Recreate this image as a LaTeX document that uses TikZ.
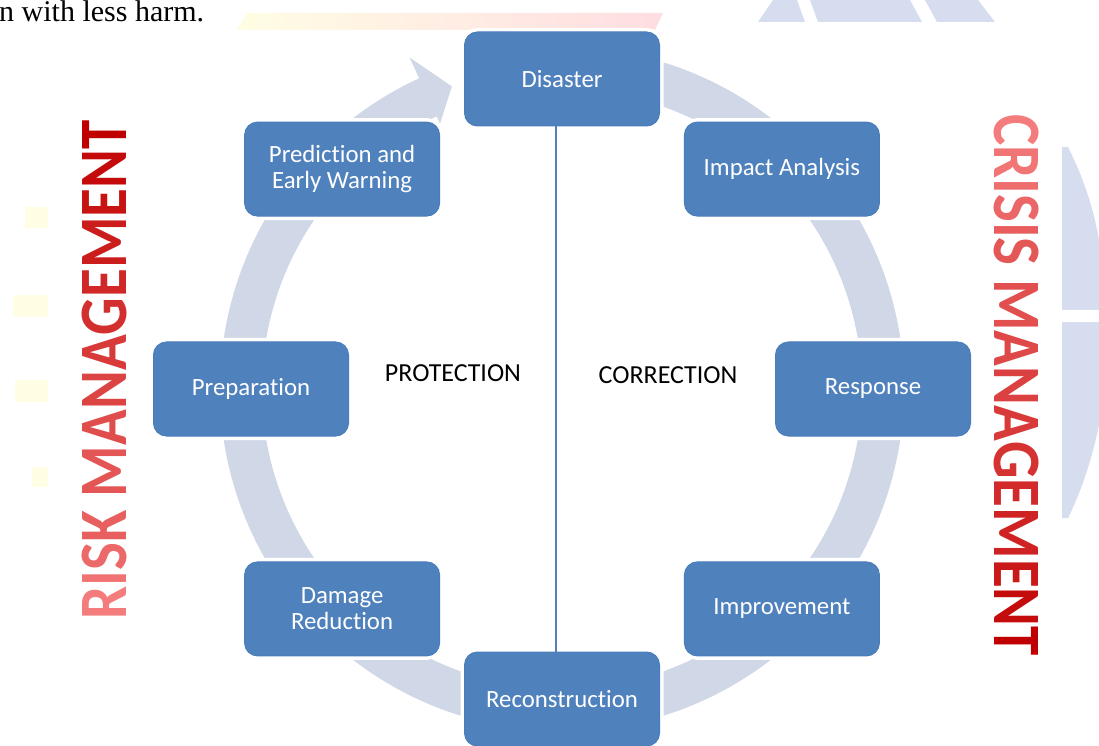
\documentclass[tikz,border=0pt]{standalone}
\usepackage{fontspec}
\setmainfont{Carlito}[Ligatures=CommonOff]
\newfontfamily\pageserif{Liberation Serif}
\usetikzlibrary{calc}

\definecolor{boxblue}{HTML}{4F81BD}
\definecolor{boxedge}{HTML}{4A7EBB}
\definecolor{ringblue}{HTML}{D0D8E8}
\definecolor{marklight}{HTML}{F47C7C}
\definecolor{markdark}{HTML}{C00000}
\definecolor{wmblue}{HTML}{D6DDEE}
\definecolor{wmyellow}{HTML}{FFFDE4}
\definecolor{wmpink}{HTML}{FFDDE2}

% letter shaded between light and dark red
\newcommand{\grad}[2]{\textcolor{markdark!#1!marklight}{#2}}

\tikzset{
	stage/.style={draw=boxedge, line width=1pt, fill=boxblue, rounded corners=13pt,
		minimum width=195pt, minimum height=94pt, text=white, align=center,
		font=\fontsize{24.8}{26}\selectfont, preaction={draw=white, line width=8pt}},
	phase/.style={font=\fontsize{26}{30}\selectfont, text=black},
	mgmt/.style={font=\fontsize{59}{60}\selectfont\bfseries, inner sep=0pt}
}

\begin{document}
\begin{tikzpicture}[x=1pt,y=1pt]
	\useasboundingbox (0,0) rectangle (1099,745);

	% Page text and background marks
	\node[font=\pageserif\fontsize{30}{30}\selectfont, anchor=base west, inner sep=0pt] (pagetext) at (-1,723.5) {n with less harm.};
	\shade[left color=wmyellow, right color=wmpink] (237,715) -- (247,732) -- (663,732) -- (655,715) -- cycle;
	\fill[wmblue] (758,723) -- (773,745) -- (797,745) -- (805,723) -- cycle;
	\fill[wmblue] (818,723) -- (810,745) -- (910,745) -- (922,723) -- cycle;
	\fill[wmblue] (937,723) -- (925,745) -- (978,745) -- (995,723) -- cycle;
	\fill[wmblue] (1062,598) -- (1068,598) .. controls (1082,570) and (1093,540) .. (1099,505) -- (1099,320) .. controls (1093,290) and (1082,255) .. (1068,227) -- (1062,227) -- cycle;
	\fill[white] (1062,423) rectangle (1099,435);
	\fill[wmyellow] (25,517) rectangle (48,538);
	\fill[wmyellow] (13,428) rectangle (48,450);
	\fill[wmyellow] (15,343) rectangle (48,365);
	\fill[wmyellow] (32,258) rectangle (48,278);

	\begin{scope}[shift={(562,356)}]
		% Cycle arrow (clockwise)
		\fill[ringblue] (80:342) arc[start angle=80, end angle=-245.3, radius=342]
			-- (-245.3:365) -- (-250:322) -- (-245.3:292) -- (-245.3:300)
			arc[start angle=-245.3, end angle=80, radius=300] -- cycle;

		% Stages
		\node[stage] (disaster) at (90:310) {Disaster};
		\node[stage] (impact) at (45:311) {Impact Analysis};
		\node[stage] (response) at (0:311) {Response};
		\node[stage] (improvement) at (-45:311) {Improvement};
		\node[stage] (reconstruction) at (-90:310) {Reconstruction};
		\node[stage] (damage) at (-135:311) {Damage\\Reduction};
		\node[stage] (preparation) at (180:311) {Preparation};
		\node[stage] (prediction) at (135:311) {Prediction and\\Early Warning};
	\end{scope}

	% Divider
	\draw[boxblue, line width=1.5pt] ([xshift=-6pt]disaster.south) -- ([xshift=-6pt]reconstruction.north);

	% Halves
	\node[phase] (protection) at (453,372) {PROTECTION};
	\node[phase] (correction) at (668,370) {CORRECTION};

	% Side titles
	\node[mgmt, rotate=90] (riskmgmt) at (104,375) {\scalebox{1}[1.15]{\grad{0}{R}\grad{8}{I}\grad{15}{S}\grad{23}{K} \grad{31}{M}\grad{38}{A}\grad{46}{N}\grad{54}{A}\grad{62}{G}\grad{69}{E}\grad{77}{M}\grad{85}{E}\grad{92}{N}\grad{100}{T}}};
	\node[mgmt, rotate=-90] (crisismgmt) at (1016,360) {\scalebox{1}[1.15]{\grad{0}{C}\grad{6}{R}\grad{12}{I}\grad{18}{S}\grad{24}{I}\grad{30}{S} \grad{36}{M}\grad{42}{A}\grad{48}{N}\grad{54}{A}\grad{60}{G}\grad{66}{E}\grad{72}{M}\grad{80}{E}\grad{90}{N}\grad{100}{T}}};
\end{tikzpicture}
\end{document}
